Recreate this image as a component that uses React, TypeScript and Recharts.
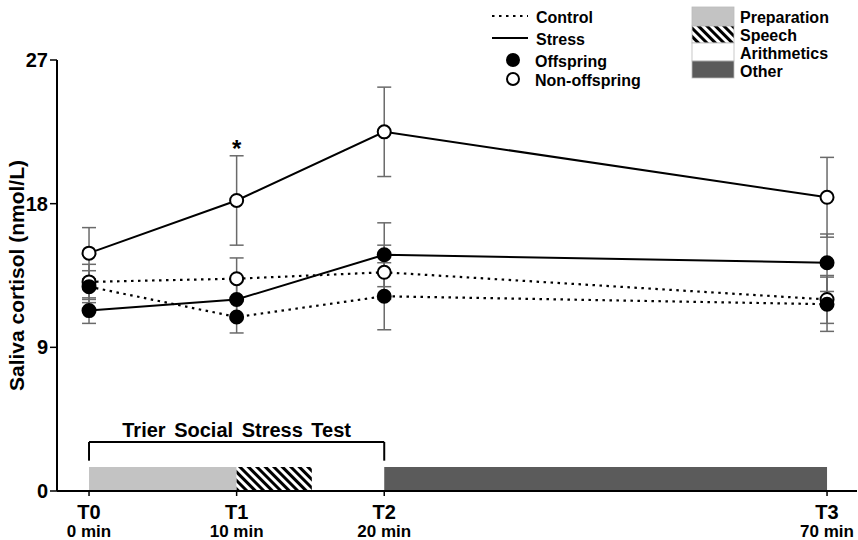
import {
  ComposedChart,
  ErrorBar,
  Legend,
  Line,
  ReferenceArea,
  ReferenceDot,
  ReferenceLine,
  XAxis,
  YAxis,
} from 'recharts';

// plotted x position of each sample; T3 (70 min) sits on a compressed axis like the original
const timePoints = [0, 10, 20, 50];
const timeLabels = ['T0', 'T1', 'T2', 'T3'];
const minuteLabels = ['0 min', '10 min', '20 min', '70 min'];
const yTicks = [0, 9, 18, 27];

const nonOffspringControl = [13.1, 13.3, 13.7, 12.0];
const nonOffspringControlErr = [1.1, 1.3, 1.7, 1.5];
const offspringControl = [12.8, 10.9, 12.2, 11.7];
const offspringControlErr = [1.0, 1.0, 2.1, 1.7];
const nonOffspringStress = [14.9, 18.2, 22.5, 18.4];
const nonOffspringStressErr = [1.6, 2.8, 2.8, 2.5];
const offspringStress = [11.3, 12.0, 14.8, 14.3];
const offspringStressErr = [0.8, 1.2, 2.0, 1.8];

// TSST phases along the time axis
const phaseNames = ['Preparation', 'Speech', 'Arithmetics', 'Other'];
const phaseStart = [0, 10, 15.1, 20];
const phaseEnd = [10, 15.1, 20, 50];
const phaseHeight = 1.5;
const bracketTop = 3.07;
const bracketFoot = 1.9;
const bracketText = 'Trier Social Stress Test';
const significantAt = 1; // T1 marked with *

const FONT = '"Liberation Sans", Arial, Helvetica, sans-serif';
const phaseFill = ['#c3c3c3', 'url(#hatch)', '#ffffff', '#5b5b5b'];
const legendPhaseFill = ['#c3c3c3', 'url(#hatchLegend)', '#ffffff', '#5b5b5b'];

const rows = timePoints.map((t, i) => ({
  t,
  nc: nonOffspringControl[i],
  ncErr: nonOffspringControlErr[i],
  oc: offspringControl[i],
  ocErr: offspringControlErr[i],
  ns: nonOffspringStress[i],
  nsErr: nonOffspringStressErr[i],
  os: offspringStress[i],
  osErr: offspringStressErr[i],
}));

function TimeTick(props: any) {
  const { x, y, payload } = props;
  const i = timePoints.indexOf(payload.value);
  return (
    <g fontFamily={FONT} fontWeight="bold" fill="#000">
      <text x={x} y={y + 21} textAnchor="middle" fontSize={20}>
        {timeLabels[i]}
      </text>
      <text x={x} y={y + 39} textAnchor="middle" fontSize={17}>
        {minuteLabels[i]}
      </text>
    </g>
  );
}

function LegendBox() {
  const lineRows = [
    { label: 'Control', dash: '2.5 4.5' },
    { label: 'Stress', dash: undefined },
  ];
  const dotRows = [
    { label: 'Offspring', fill: '#000' },
    { label: 'Non-offspring', fill: '#fff' },
  ];
  const boxY = [7, 26, 43, 61];
  const boxH = [19, 17, 18, 17];
  return (
    <svg width={858} height={90} style={{ display: 'block' }}>
      <defs>
        <pattern id="hatchLegend" width={6} height={6} patternUnits="userSpaceOnUse" patternTransform="rotate(-45)">
          <rect width={6} height={6} fill="#fff" />
          <line x1={1.5} y1={0} x2={1.5} y2={6} stroke="#000" strokeWidth={3} />
        </pattern>
      </defs>
      <g fontFamily={FONT} fontWeight="bold" fontSize={16} fill="#000">
        {lineRows.map((r, i) => (
          <g key={r.label}>
            <line x1={492} x2={528} y1={16 + i * 22} y2={16 + i * 22} stroke="#000" strokeWidth={2} strokeDasharray={r.dash} />
            <text x={536} y={17 + i * 22} dominantBaseline="central">{r.label}</text>
          </g>
        ))}
        {dotRows.map((r, i) => (
          <g key={r.label}>
            <circle cx={513} cy={60 + i * 19} r={6} fill={r.fill} stroke="#000" strokeWidth={2} />
            <text x={535} y={61 + i * 19} dominantBaseline="central">{r.label}</text>
          </g>
        ))}
        {phaseNames.map((name, i) => (
          <g key={name}>
            <rect x={692} y={boxY[i]} width={42} height={boxH[i]} fill={legendPhaseFill[i]} stroke="#bbb" strokeWidth={0.8} />
            <text x={740} y={17 + i * 18.3} dominantBaseline="central">{name}</text>
          </g>
        ))}
      </g>
    </svg>
  );
}

export default function App() {
  const dotted = '2.5 4.5';
  const errStyle = { stroke: '#6a6a6a', strokeWidth: 1.5 };
  const openDot = { r: 6.5, fill: '#fff', stroke: '#000', strokeWidth: 2, strokeDasharray: '0' };
  const filledDot = { r: 6.5, fill: '#000', stroke: '#000', strokeWidth: 2, strokeDasharray: '0' };
  return (
    <div style={{ position: 'absolute', left: 0, top: 0, width: 858, height: 540, background: '#fff' }}>
      <ComposedChart
        width={858}
        height={540}
        data={rows}
        margin={{ top: 60, right: 1, bottom: 0, left: 0 }}
        style={{ fontFamily: FONT }}
      >
        <defs>
          <pattern id="hatch" width={6} height={6} patternUnits="userSpaceOnUse" patternTransform="rotate(-45)">
            <rect width={6} height={6} fill="#fff" />
            <line x1={1.5} y1={0} x2={1.5} y2={6} stroke="#000" strokeWidth={3} />
          </pattern>
        </defs>
        <XAxis
          dataKey="t"
          type="number"
          domain={[-2.17, 52.03]}
          ticks={timePoints}
          height={49}
          tick={<TimeTick />}
          tickSize={5}
          tickLine={{ stroke: '#000', strokeWidth: 1.5 }}
          axisLine={{ stroke: '#000', strokeWidth: 2 }}
          allowDataOverflow
        />
        <YAxis
          type="number"
          domain={[0, 27]}
          ticks={yTicks}
          width={57}
          tickSize={7}
          tickMargin={2}
          tick={{ fill: '#000', fontSize: 20, fontWeight: 'bold', fontFamily: FONT }}
          tickLine={{ stroke: '#000', strokeWidth: 1.5 }}
          axisLine={{ stroke: '#000', strokeWidth: 2 }}
          label={{
            value: 'Saliva cortisol (nmol/L)',
            angle: -90,
            position: 'insideLeft',
            offset: 17,
            style: { textAnchor: 'middle', fontSize: 21, fontWeight: 'bold', fill: '#000', fontFamily: FONT },
          }}
        />
        <Legend
          layout="horizontal"
          verticalAlign="middle"
          align="center"
          content={() => <LegendBox />}
          wrapperStyle={{ left: 0, top: 0, width: 858, height: 90 }}
        />
        {phaseNames.map((name, i) => (
          <ReferenceArea
            key={name}
            x1={phaseStart[i]}
            x2={phaseEnd[i]}
            y1={0}
            y2={phaseHeight}
            fill={phaseFill[i]}
            fillOpacity={1}
            stroke="none"
          />
        ))}
        <ReferenceLine
          segment={[
            { x: phaseStart[0], y: bracketTop },
            { x: phaseEnd[2], y: bracketTop },
          ]}
          stroke="#000"
          strokeWidth={2}
          label={{
            value: bracketText,
            position: 'top',
            offset: 5,
            style: { fontSize: 20, fontWeight: 'bold', fill: '#000', fontFamily: FONT, wordSpacing: 3 },
          }}
        />
        <ReferenceLine
          segment={[
            { x: phaseStart[0], y: bracketTop },
            { x: phaseStart[0], y: bracketFoot },
          ]}
          stroke="#000"
          strokeWidth={2}
        />
        <ReferenceLine
          segment={[
            { x: phaseEnd[2], y: bracketTop },
            { x: phaseEnd[2], y: bracketFoot },
          ]}
          stroke="#000"
          strokeWidth={2}
        />
        <Line dataKey="nc" stroke="#000" strokeWidth={2.2} strokeDasharray={dotted} dot={openDot} isAnimationActive={false}>
          <ErrorBar dataKey="ncErr" direction="y" width={7} {...errStyle} />
        </Line>
        <Line dataKey="oc" stroke="#000" strokeWidth={2.2} strokeDasharray={dotted} dot={filledDot} isAnimationActive={false}>
          <ErrorBar dataKey="ocErr" direction="y" width={7} {...errStyle} />
        </Line>
        <Line dataKey="ns" stroke="#000" strokeWidth={2} dot={openDot} isAnimationActive={false}>
          <ErrorBar dataKey="nsErr" direction="y" width={7} {...errStyle} />
        </Line>
        <Line dataKey="os" stroke="#000" strokeWidth={2} dot={filledDot} isAnimationActive={false}>
          <ErrorBar dataKey="osErr" direction="y" width={7} {...errStyle} />
        </Line>
        <ReferenceDot
          x={timePoints[significantAt]}
          y={nonOffspringStress[significantAt] + nonOffspringStressErr[significantAt]}
          r={0}
          stroke="none"
          label={{
            value: '*',
            position: 'top',
            offset: -1,
            style: { fontSize: 24, fontWeight: 'bold', fill: '#000', fontFamily: FONT },
          }}
        />
      </ComposedChart>
    </div>
  );
}
